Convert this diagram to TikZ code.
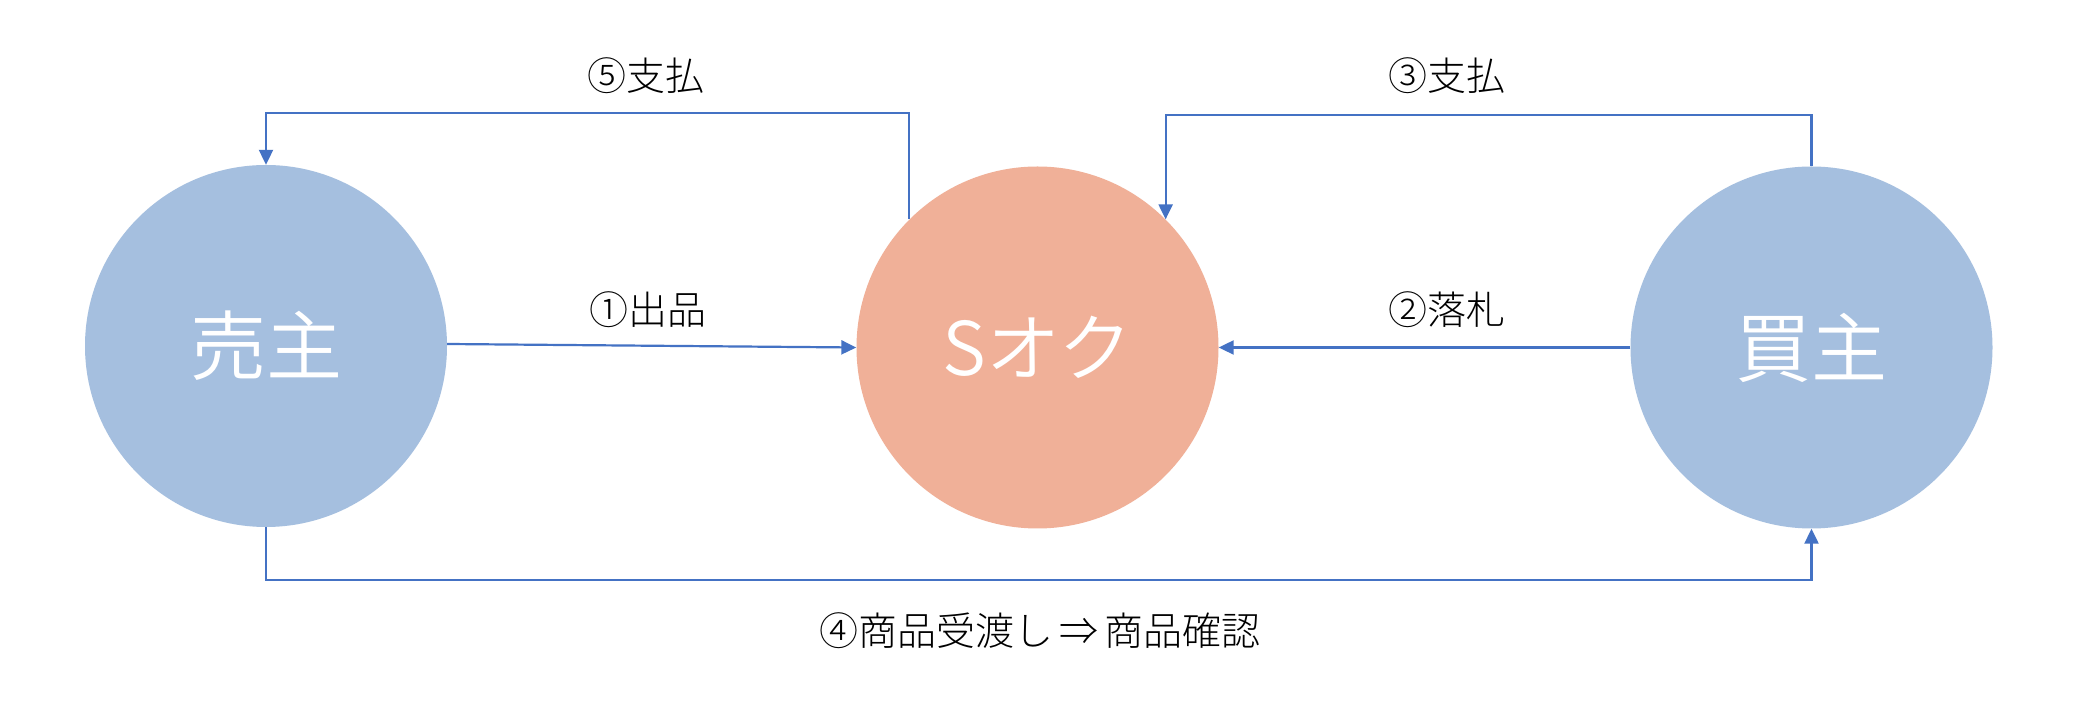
\documentclass[tikz,border=0pt]{standalone}
\usepackage{fontspec}
\setmainfont{Noto Sans CJK JP}
\IfFontExistsTF{Noto Sans CJK JP DemiLight}
  {\newfontfamily\bigfont{Noto Sans CJK JP DemiLight}}
  {\newfontfamily\bigfont{Noto Sans CJK JP}}
\IfFontExistsTF{Noto Sans CJK JP Light}
  {\newfontfamily\lblfont{Noto Sans CJK JP Light}}
  {\newfontfamily\lblfont{Noto Sans CJK JP}}
\usetikzlibrary{arrows.meta}
\definecolor{cblue}{HTML}{A5BFDF}
\definecolor{corange}{HTML}{F0B098}
\definecolor{cline}{HTML}{4472C4}
\tikzset{
  party/.style={circle, fill=cblue, draw=none, minimum size=362pt, inner sep=0pt,
    text=white, font=\bigfont\fontsize{76}{80}\selectfont},
  hub/.style={circle, fill=corange, draw=none, minimum size=362pt, inner sep=0pt,
    text=white, font=\bigfont\fontsize{74}{78}\selectfont},
  conn/.style={draw=cline, line width=2.2pt, -{Triangle[length=15pt,width=14pt]}},
  lbl/.style={inner sep=0pt, text=black, font=\lblfont\fontsize{39}{42}\selectfont}
}
\begin{document}
\begin{tikzpicture}[x=1pt,y=1pt]
\useasboundingbox (0,0) rectangle (2078,709);
\fill[white] (0,0) rectangle (2078,709);
\node[party] (seller) at (266,363) {売主};
\node[hub] (auction) at (1037.5,361.5) {Sオク};
\node[party] (buyer) at (1811.5,361.5) {買主};
\coordinate (top5) at (0,596);
\coordinate (top3) at (0,594);
\coordinate (bot) at (0,129);
% 1 listing
\draw[conn] ([yshift=2pt]seller.east) -- (auction.west);
% 2 winning bid
\draw[conn] (buyer.west) -- (auction.east);
% 3 payment to auction
\draw[conn] (buyer.north) |- (auction.45 |- top3) -- (auction.45);
% 5 payment to seller
\draw[conn] (auction.135) |- (seller.north |- top5) -- (seller.north);
% 4 delivery
\draw[conn] (seller.south) |- (buyer.south |- bot) -- (buyer.south);
\node[lbl] (l5) at (646,633.5) {⑤支払};
\node[lbl] (l3) at (1447,633.5) {③支払};
\node[lbl] (l1) at (648,399.5) {①出品};
\node[lbl] (l2) at (1447,399.5) {②落札};
\node[lbl] (l4) at (1040,78.5) {④商品受渡し\,⇒\,商品確認};
\end{tikzpicture}
\end{document}
